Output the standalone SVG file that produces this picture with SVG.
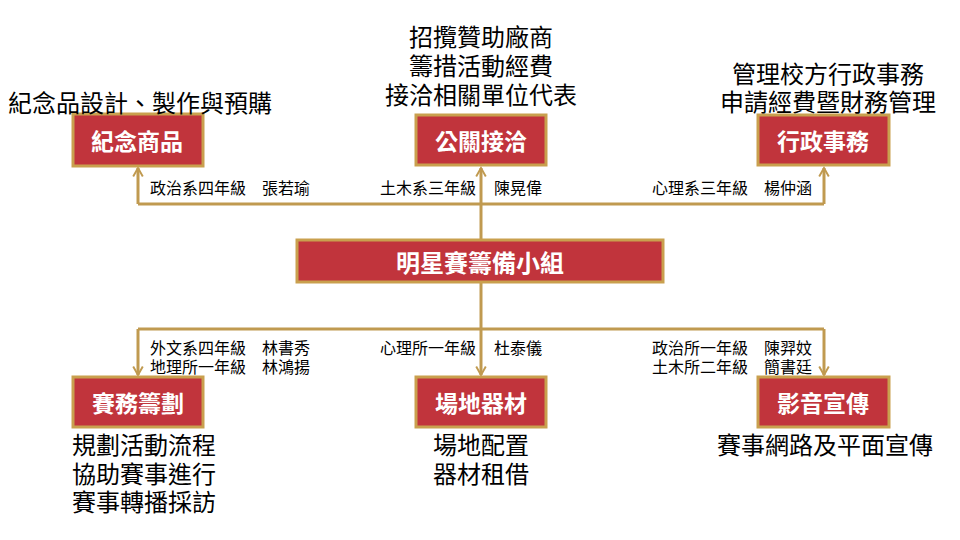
<svg xmlns="http://www.w3.org/2000/svg" width="960" height="540" viewBox="0 0 960 540">
<defs>
<style>
.box{fill:#C1343C;stroke:#C9A04E;stroke-width:3}
.bt{fill:#fff;font-family:"Noto Sans CJK TC","Noto Sans CJK SC",sans-serif;font-size:23px;font-weight:bold;text-anchor:middle;dominant-baseline:central}
.ct{fill:#fff;font-family:"Noto Sans CJK TC","Noto Sans CJK SC",sans-serif;font-size:24px;font-weight:bold;text-anchor:middle;dominant-baseline:central}
.d{fill:#000;font-family:"Noto Sans CJK TC","Noto Sans CJK SC",sans-serif;font-size:24px;dominant-baseline:central}
.m{text-anchor:middle}
.s{fill:#000;font-family:"Noto Sans CJK TC","Noto Sans CJK SC",sans-serif;font-size:16px;dominant-baseline:central}
.e{text-anchor:end}
.ln{fill:none;stroke:#C09A50;stroke-width:3}
</style>
<marker id="ah" viewBox="0 0 10 10" refX="8" refY="5" markerWidth="4" markerHeight="4" orient="auto" markerUnits="strokeWidth">
<path d="M1,1 L8,5 L1,9" fill="none" stroke="#C09A50" stroke-width="1.6"/>
</marker>
</defs>
<rect width="960" height="540" fill="#fff"/>
<g id="connectors">
<path class="ln" d="M481,240 V204"/>
<path class="ln" d="M138,204 H824"/>
<path class="ln" d="M138,204 V168" marker-end="url(#ah)"/>
<path class="ln" d="M481,204 V168" marker-end="url(#ah)"/>
<path class="ln" d="M824,204 V168" marker-end="url(#ah)"/>
<path class="ln" d="M481,282 V375" marker-end="url(#ah)"/>
<path class="ln" d="M138,329 H824"/>
<path class="ln" d="M138,329 V375" marker-end="url(#ah)"/>
<path class="ln" d="M824,329 V375" marker-end="url(#ah)"/>
</g>
<g id="center">
<rect class="box" x="297" y="240" width="366" height="42"/>
<text class="ct" x="480" y="261">明星賽籌備小組</text>
</g>
<g id="souvenir">
<rect class="box" x="73" y="114" width="130" height="52"/>
<text class="bt" x="137" y="140">紀念商品</text>
<text class="d" x="8" y="101">紀念品設計、製作與預購</text>
<text class="s" x="150" y="187">政治系四年級　張若瑜</text>
</g>
<g id="pr">
<rect class="box" x="416" y="115" width="130" height="50"/>
<text class="bt" x="481" y="140">公關接洽</text>
<text class="d m" x="481" y="35">招攬贊助廠商</text>
<text class="d m" x="481" y="64">籌措活動經費</text>
<text class="d m" x="481" y="93">接洽相關單位代表</text>
<text class="s e" x="476" y="187">土木系三年級</text>
<text class="s" x="494" y="187">陳晃偉</text>
</g>
<g id="admin">
<rect class="box" x="758" y="115" width="131" height="50"/>
<text class="bt" x="823" y="140">行政事務</text>
<text class="d m" x="828" y="72">管理校方行政事務</text>
<text class="d m" x="828" y="100">申請經費暨財務管理</text>
<text class="s" x="652" y="187">心理系三年級　楊仲涵</text>
</g>
<g id="event">
<rect class="box" x="73" y="377" width="130" height="50"/>
<text class="bt" x="138" y="402">賽務籌劃</text>
<text class="s" x="150" y="347">外文系四年級　林書秀</text>
<text class="s" x="150" y="366">地理所一年級　林鴻揚</text>
<text class="d" x="72" y="443">規劃活動流程</text>
<text class="d" x="72" y="472">協助賽事進行</text>
<text class="d" x="72" y="500">賽事轉播採訪</text>
</g>
<g id="venue">
<rect class="box" x="416" y="377" width="130" height="50"/>
<text class="bt" x="481" y="402">場地器材</text>
<text class="s e" x="476" y="347">心理所一年級</text>
<text class="s" x="494" y="347">杜泰儀</text>
<text class="d m" x="481" y="443">場地配置</text>
<text class="d m" x="481" y="472">器材租借</text>
</g>
<g id="media">
<rect class="box" x="758" y="377" width="131" height="50"/>
<text class="bt" x="823" y="402">影音宣傳</text>
<text class="s" x="652" y="347">政治所一年級　陳羿妏</text>
<text class="s" x="652" y="366">土木所二年級　簡書廷</text>
<text class="d m" x="825" y="443">賽事網路及平面宣傳</text>
</g>
</svg>
